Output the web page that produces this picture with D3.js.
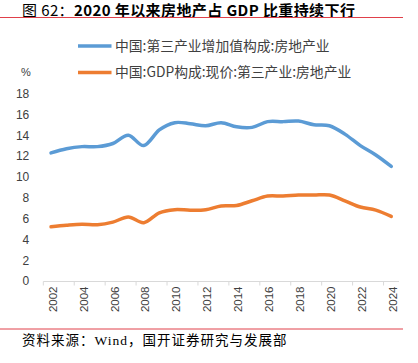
<!DOCTYPE html>
<html>
<head>
<meta charset="utf-8">
<script src="https://cdn.jsdelivr.net/npm/d3@7"></script>
<style>
  body { margin: 0; background: #fff; }
  svg { display: block; }
</style>
</head>
<body>
<script>
// data
const years = d3.range(2002, 2025);
const tertiaryShare = [12.3, 12.7, 12.9, 12.9, 13.2, 14.0, 13.0, 14.5, 15.2, 15.1, 14.9, 15.2,
  14.8, 14.75, 15.3, 15.3, 15.35, 15.0, 14.9, 14.1, 13.0, 12.1, 11.0];
const gdpShare = [5.2, 5.35, 5.45, 5.4, 5.65, 6.15, 5.6, 6.55, 6.85, 6.8, 6.85, 7.2,
  7.25, 7.7, 8.15, 8.15, 8.25, 8.25, 8.25, 7.7, 7.1, 6.8, 6.2];
const yTicks = [0, 2, 4, 6, 8, 10, 12, 14, 16, 18];
const xTicks = years.filter((y) => y % 2 === 0);
const seriesNames = ["中国:第三产业增加值构成:房地产业", "中国:GDP构成:现价:第三产业:房地产业"];
const colors = ["#5b9bd5", "#ed7d31"];

const width = 418;
const height = 363;

const svg = d3
  .select("body")
  .append("svg")
  .attr("width", width)
  .attr("height", height);

//title with red rule under it
const title = svg
  .append("text")
  .attr("x", 22)
  .attr("y", 16)
  .style("font-family", "'Noto Sans CJK SC', sans-serif")
  .style("font-size", "15px")
  .style("letter-spacing", "0.4px")
  .style("fill", "#000");
title.append("tspan").text("图 62：");
title.append("tspan").style("font-weight", "bold").text("2020 年以来房地产占 GDP 比重持续下行");

svg.append("line")
  .attr("x1", 0).attr("x2", 403)
  .attr("y1", 17.5).attr("y2", 17.5)
  .style("stroke", "#e0404a")
  .style("stroke-width", 1);

//scales
const x = d3.scaleBand().domain(years).range([43.3, 399]).padding(0);
const y = d3.scaleLinear().domain([0, 18]).range([281, 93.5]);
const cx = (d) => x(d) + x.bandwidth() / 2;

//y axis, labels only
const yAxis = svg
  .append("g")
  .attr("transform", "translate(43.3,0)")
  .call(d3.axisLeft(y).tickValues(yTicks).tickSize(0).tickPadding(14));
yAxis.select(".domain").remove();
yAxis.selectAll("text")
  .style("font-family", "'Liberation Sans', Arial, sans-serif")
  .style("font-size", "12px")
  .style("fill", "#404040");

svg.append("text")
  .attr("x", 26)
  .attr("y", 76)
  .attr("text-anchor", "middle")
  .style("font-family", "'Liberation Sans', Arial, sans-serif")
  .style("font-size", "11px")
  .style("fill", "#404040")
  .text("%");

//x axis line and ticks at category edges
svg.append("line")
  .attr("x1", 43.3).attr("x2", 399)
  .attr("y1", 281.5).attr("y2", 281.5)
  .style("stroke", "#d9d9d9");
svg.selectAll(".xtick")
  .data(xTicks)
  .enter()
  .append("line")
  .attr("class", "xtick")
  .attr("x1", (d) => x(d)).attr("x2", (d) => x(d))
  .attr("y1", 281.5).attr("y2", 285.5)
  .style("stroke", "#d9d9d9");

const xAxis = svg
  .append("g")
  .attr("transform", "translate(0,281.5)")
  .call(d3.axisBottom(x).tickValues(xTicks).tickSize(0).tickPadding(0));
xAxis.select(".domain").remove();
xAxis.selectAll("text")
  .attr("transform", "rotate(-90)")
  .attr("x", -5)
  .attr("y", 0)
  .attr("dy", "0.36em")
  .attr("dx", 0)
  .attr("text-anchor", "end")
  .style("font-family", "'Liberation Sans', Arial, sans-serif")
  .style("font-size", "11.5px")
  .style("fill", "#404040");
xAxis.selectAll(".tick").attr("transform", (d) => `translate(${cx(d) + 1.5},0)`);

//lines
const line = d3
  .line()
  .x((d) => cx(d.year))
  .y((d) => y(d.value))
  .curve(d3.curveCardinal.tension(0));

[tertiaryShare, gdpShare].forEach((values, i) => {
  svg.append("path")
    .datum(years.map((yr, j) => ({ year: yr, value: values[j] })))
    .attr("d", line)
    .style("fill", "none")
    .style("stroke", colors[i])
    .style("stroke-width", 3.5)
    .style("stroke-linecap", "round");
});

//legend
const legend = svg
  .selectAll(".legend")
  .data(seriesNames)
  .enter()
  .append("g")
  .attr("class", "legend")
  .attr("transform", (d, i) => `translate(78,${46 + i * 26.5})`);
legend.append("line")
  .attr("x1", 0).attr("x2", 33.5)
  .style("stroke", (d, i) => colors[i])
  .style("stroke-width", 3.5);
legend.append("text")
  .attr("x", 37)
  .attr("dy", "0.36em")
  .style("font-family", "'Noto Sans CJK SC', sans-serif")
  .style("font-size", "13.8px")
  .style("fill", "#404040")
  .text((d) => d);

//source note
svg.append("line")
  .attr("x1", 0).attr("x2", 403)
  .attr("y1", 329).attr("y2", 329)
  .style("stroke", "#e0404a")
  .style("stroke-width", 1);
svg.append("text")
  .attr("x", 22)
  .attr("y", 345)
  .style("font-family", "'Liberation Serif', 'Noto Sans CJK SC', serif")
  .style("font-size", "13.5px")
  .style("letter-spacing", "1px")
  .style("fill", "#000")
  .text("资料来源：Wind，国开证券研究与发展部");
</script>
</body>
</html>
